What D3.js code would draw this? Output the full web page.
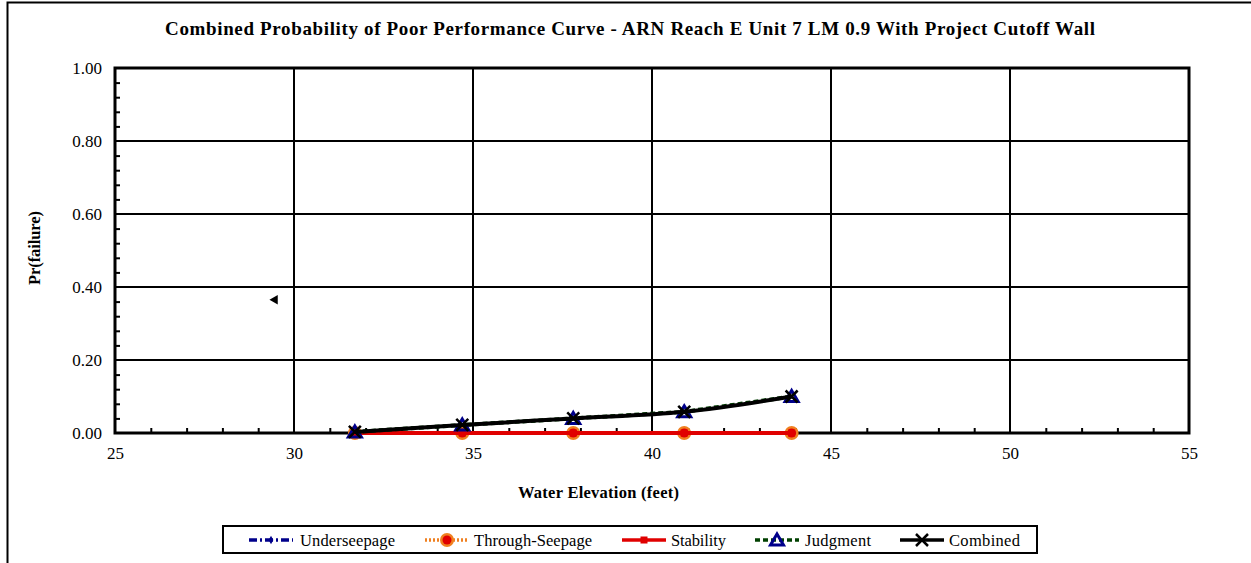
<!DOCTYPE html>
<html>
<head>
<meta charset="utf-8">
<script src="https://cdn.jsdelivr.net/npm/d3@7"></script>
<style>
  body { margin: 0; background: #fff; }
  svg text { font-family: "Liberation Serif", "Times New Roman", serif; fill: #000; }
</style>
</head>
<body>
<div id="chart"></div>
<script>
const width = 1251;
const height = 563;

// elevations and probabilities
var elevations = [31.7, 34.7, 37.8, 40.9, 43.9];
var underseepage = [0, 0, 0, 0, 0];
var throughSeepage = [0, 0, 0, 0, 0];
var stability = [0, 0, 0, 0, 0];
var judgment = [0.003, 0.022, 0.040, 0.058, 0.100];
var combined = [0.003, 0.022, 0.040, 0.058, 0.100];

var xTicks = [25, 30, 35, 40, 45, 50, 55];
var yTicks = [0, 0.2, 0.4, 0.6, 0.8, 1.0];

var margin = {left: 115, right: 1189, top: 68, bottom: 433};

var svg = d3.select("#chart").append("svg")
  .attr("width", width)
  .attr("height", height);

var x = d3.scaleLinear().domain([25, 55]).range([margin.left, margin.right]);
var y = d3.scaleLinear().domain([0, 1]).range([margin.bottom, margin.top]);

// outer chart frame (left and top only visible)
svg.append("path")
  .attr("d", "M7.5," + height + "V2.5H" + width)
  .attr("fill", "none")
  .attr("stroke", "#000")
  .attr("stroke-width", 2);

// title
svg.append("text")
  .attr("x", 165).attr("y", 35)
  .attr("font-weight", "bold")
  .attr("font-size", 19)
  .attr("textLength", 930)
  .attr("lengthAdjust", "spacing")
  .text("Combined Probability of Poor Performance Curve - ARN Reach E Unit 7 LM 0.9 With Project Cutoff Wall");

// gridlines
svg.append("g").selectAll("line").data(xTicks.slice(1, -1)).enter().append("line")
  .attr("x1", d => x(d)).attr("x2", d => x(d))
  .attr("y1", margin.top).attr("y2", margin.bottom)
  .attr("stroke", "#000").attr("stroke-width", 2);
svg.append("g").selectAll("line").data(yTicks.slice(1, -1)).enter().append("line")
  .attr("x1", margin.left).attr("x2", margin.right)
  .attr("y1", d => y(d)).attr("y2", d => y(d))
  .attr("stroke", "#000").attr("stroke-width", 2);

// minor ticks (inside)
var xMinor = d3.range(25, 55.01, 1).filter(d => d % 5 !== 0);
var yMinor = d3.range(0, 1.001, 0.04).filter(d => Math.abs(d * 5 - Math.round(d * 5)) > 1e-6);
svg.append("g").call(d3.axisBottom(x).tickValues(xMinor).tickSize(-5).tickFormat(""))
  .attr("transform", "translate(0," + margin.bottom + ")")
  .call(g => g.select(".domain").remove())
  .selectAll("line").attr("stroke-width", 2);
svg.append("g").call(d3.axisLeft(y).tickValues(yMinor).tickSize(-5).tickFormat(""))
  .attr("transform", "translate(" + margin.left + ",0)")
  .call(g => g.select(".domain").remove())
  .selectAll("line").attr("stroke-width", 2);

// tick labels
var xAxis = svg.append("g")
  .attr("transform", "translate(0," + margin.bottom + ")")
  .call(d3.axisBottom(x).tickValues(xTicks).tickSize(0).tickPadding(14).tickFormat(d3.format("d")));
xAxis.select(".domain").remove();
xAxis.attr("font-family", null).attr("font-size", 17);

var yAxis = svg.append("g")
  .attr("transform", "translate(" + margin.left + ",0)")
  .call(d3.axisLeft(y).tickValues(yTicks).tickSize(0).tickPadding(13).tickFormat(d3.format(".2f")));
yAxis.select(".domain").remove();
yAxis.attr("font-family", null).attr("font-size", 17);

// axis titles
svg.append("text")
  .attr("x", 518).attr("y", 498)
  .attr("font-weight", "bold").attr("font-size", 16.5)
  .attr("textLength", 161).attr("lengthAdjust", "spacing")
  .text("Water Elevation (feet)");
svg.append("text")
  .attr("transform", "translate(40,285) rotate(-90)")
  .attr("font-weight", "bold").attr("font-size", 16.5)
  .attr("textLength", 74).attr("lengthAdjust", "spacing")
  .text("Pr(failure)");

// stray marker
svg.append("path")
  .attr("d", d3.symbol(d3.symbolTriangle, 40)())
  .attr("transform", "translate(275," + y(0.365) + ") rotate(-90)")
  .attr("fill", "#000");

// series
var series = [
  {name: "Underseepage", values: underseepage, color: "#00008b", dash: "8,3,2,3", marker: "diamond", curve: d3.curveLinear},
  {name: "Through-Seepage", values: throughSeepage, color: "#f08020", dash: "2,2", marker: "circle", curve: d3.curveLinear},
  {name: "Stability", values: stability, color: "#e00000", dash: null, marker: "square", curve: d3.curveLinear},
  {name: "Judgment", values: judgment, color: "#004000", dash: "5,3", marker: "triangle", curve: d3.curveLinear},
  {name: "Combined", values: combined, color: "#000", dash: null, marker: "x", curve: d3.curveCatmullRom}
];

function drawMarker(g, s, cx, cy) {
  if (s.marker === "diamond") {
    g.append("path").attr("d", d3.symbol(d3.symbolDiamond, 20)())
      .attr("transform", "translate(" + cx + "," + cy + ")").attr("fill", "#00008b");
  } else if (s.marker === "circle") {
    g.append("circle").attr("cx", cx).attr("cy", cy).attr("r", 7)
      .attr("fill", "#f08020");
    g.append("circle").attr("cx", cx).attr("cy", cy).attr("r", 4.5)
      .attr("fill", "#e00000");
  } else if (s.marker === "square") {
    g.append("rect").attr("x", cx - 3.5).attr("y", cy - 3.5).attr("width", 7).attr("height", 7)
      .attr("fill", "#e00000");
  } else if (s.marker === "triangle") {
    g.append("path").attr("d", "M0,-6L6.5,5H-6.5Z")
      .attr("transform", "translate(" + cx + "," + cy + ")")
      .attr("fill", "none").attr("stroke", "#00008b").attr("stroke-width", 3);
  } else if (s.marker === "x") {
    g.append("path").attr("d", "M-6,-6L6,6M-6,6L6,-6")
      .attr("transform", "translate(" + cx + "," + cy + ")")
      .attr("stroke", "#000").attr("stroke-width", 2.5);
  }
}

// plot frame
svg.append("rect")
  .attr("x", margin.left).attr("y", margin.top)
  .attr("width", margin.right - margin.left).attr("height", margin.bottom - margin.top)
  .attr("fill", "none").attr("stroke", "#000").attr("stroke-width", 3);

var plot = svg.append("g");
series.forEach(function(s) {
  var pts = elevations.map((e, i) => [e, s.values[i]]);
  var line = d3.line().x(d => x(d[0])).y(d => y(d[1])).curve(s.curve);
  plot.append("path")
    .datum(pts)
    .attr("d", line)
    .attr("fill", "none")
    .attr("stroke", s.color)
    .attr("stroke-width", 4)
    .attr("stroke-dasharray", s.dash);
  pts.forEach(p => drawMarker(plot, s, x(p[0]), y(p[1])));
});

// legend
var legend = svg.append("g");
legend.append("rect")
  .attr("x", 223).attr("y", 526).attr("width", 814).attr("height", 27)
  .attr("fill", "#fff").attr("stroke", "#000").attr("stroke-width", 2);
var legendLineX = [249, 425, 622, 755, 900];
var legendTextX = [300, 474, 671, 805, 949];
var legendTextW = [95, 118, 55, 66, 71];
series.forEach(function(s, i) {
  var g = legend.append("g");
  var x0 = legendLineX[i], yy = 540;
  g.append("line")
    .attr("x1", x0).attr("x2", x0 + 44).attr("y1", yy).attr("y2", yy)
    .attr("stroke", s.color).attr("stroke-width", 3.5)
    .attr("stroke-dasharray", s.dash);
  drawMarker(g, s, x0 + 22, yy);
  g.append("text")
    .attr("x", legendTextX[i]).attr("y", yy + 6)
    .attr("font-size", 16.5)
    .attr("textLength", legendTextW[i]).attr("lengthAdjust", "spacing")
    .text(s.name);
});
</script>
</body>
</html>
